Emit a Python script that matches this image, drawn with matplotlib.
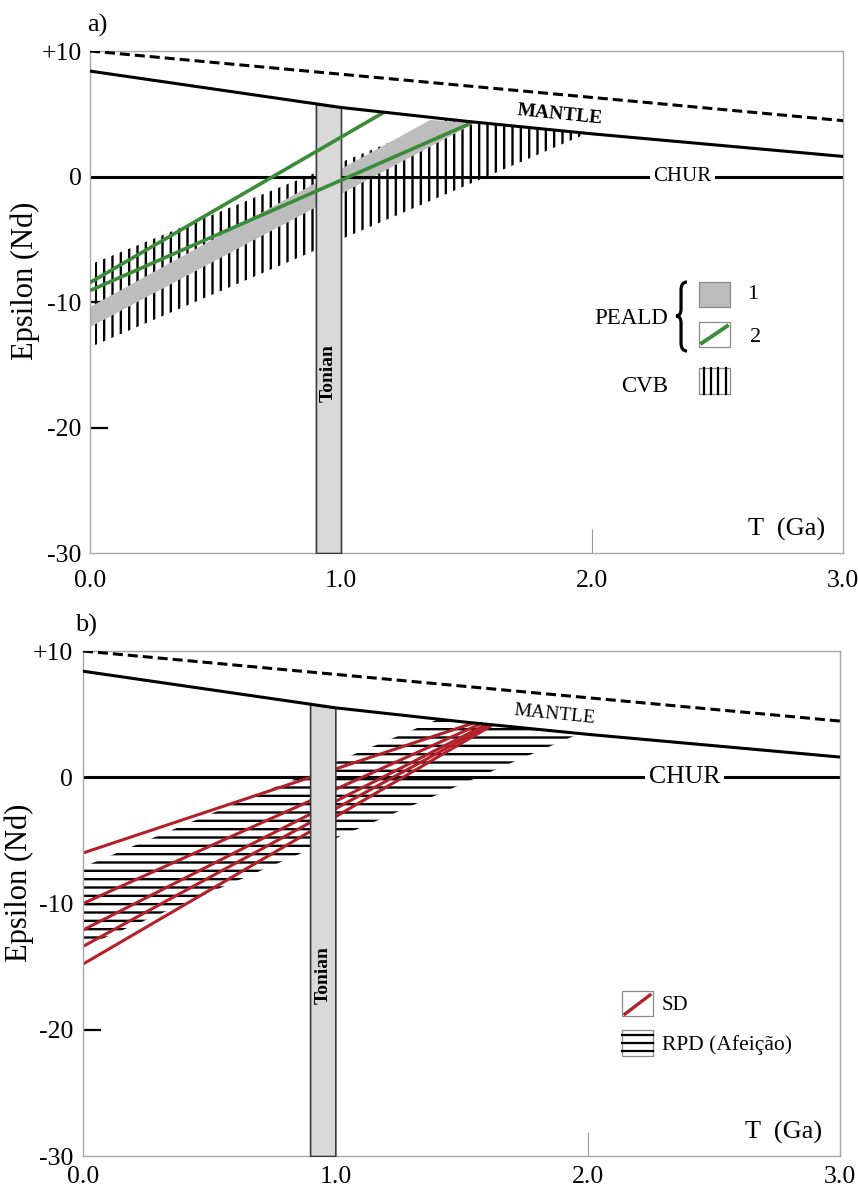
import numpy as np
import matplotlib
matplotlib.use('Agg')
import matplotlib.pyplot as plt
from matplotlib.path import Path
from matplotlib.patches import PathPatch, Rectangle
from matplotlib.lines import Line2D

plt.rcParams['font.family'] = ['Liberation Serif', 'DejaVu Serif']
plt.rcParams['hatch.linewidth'] = 1.7
plt.rcParams['lines.scale_dashes'] = False

# ---------------- data ----------------
T_ticks = [0.0, 1.0, 2.0, 3.0]
T_tick_labels = ['0.0', '1.0', '2.0', '3.0']
eps_ticks = [10, 0, -10, -20, -30]
eps_tick_labels = ['+10', '0', '-10', '-20', '-30']
minor_eps = [-10, -20]
minor_T = [2.0]

# depleted mantle (dashed) and mantle curve
dm_T = [0.0, 3.0]
dm_eps = [10.0, 4.45]
mantle_T = [0.0, 0.5, 1.0, 1.5, 2.0, 2.5, 3.0]
mantle_eps = [8.4, 6.95, 5.5, 4.4, 3.4, 2.5, 1.6]
chur_T = [0.0, 3.0]
chur_eps = [0.0, 0.0]

tonian_T = [0.9, 1.0]

# panel a
peald1_T = [0.0, 1.355, 1.534, 0.0]
peald1_eps = [-10.4, 4.5, 4.27, -12.0]
peald2_T = [[0.0, 1.167], [0.0, 1.52]]
peald2_eps = [[-8.45, 5.07], [-9.09, 4.27]]
cvb_T = [0.02, 1.42, 1.5, 1.98]
cvb_upper = [-6.86, 4.55, 4.4, 3.44]
cvb_lower = [-13.43, -1.39, -0.70, 3.43]

# panel b
sd_T = [[0.0, 1.548], [0.0, 1.583], [0.0, 1.60], [0.0, 1.61], [0.0, 1.62]]
sd_eps = [[-6.0, 4.3], [-10.0, 4.3], [-12.1, 4.2], [-13.4, 4.15], [-14.8, 4.1]]
rpd_T = [0.0, 1.409, 1.5, 1.964]
rpd_upper = [-7.11, 4.6, 4.4, 3.45]
rpd_lower = [-13.45, -1.34, -0.56, 3.43]

GREEN = '#3a8c38'
RED = '#b3202a'
BAND = '#bdbdbd'
BAR = '#d9d9d9'

fig = plt.figure(figsize=(8.58, 11.90), dpi=100)
axa = fig.add_axes([0.10490, 0.53529, 0.87762, 0.42185])
axb = fig.add_axes([0.09674, 0.02857, 0.88228, 0.42437])


def setup(ax, xpad, ypad, ylab_xy):
    ax.set_xlim(0, 3)
    ax.set_ylim(-30, 10)
    ax.set_xticks(T_ticks)
    ax.set_xticklabels(T_tick_labels, fontsize=18.5)
    ax.set_yticks(eps_ticks)
    ax.set_yticklabels(eps_tick_labels, fontsize=18.5)
    ax.set_yticks(minor_eps, minor=True)
    ax.set_xticks(minor_T, minor=True)
    ax.xaxis.remove_overlapping_locs = False
    ax.yaxis.remove_overlapping_locs = False
    ax.tick_params(which='major', length=0)
    ax.tick_params(axis='x', which='major', pad=xpad)
    ax.tick_params(axis='y', which='major', pad=ypad)
    ax.tick_params(axis='y', which='minor', direction='in', length=13,
                   width=1.6, color='black')
    ax.tick_params(axis='x', which='minor', direction='in', length=17,
                   width=0.8, color='#9a9a9a')
    for s in ax.spines.values():
        s.set_color('#a8a8a8')
        s.set_linewidth(1.0)
    ax.set_ylabel('Epsilon (Nd)', fontsize=22)
    ax.yaxis.set_label_coords(*ylab_xy)


def common(ax, chur_T_text, chur_fs, mantle_xy, mantle_bold, chur_z):
    ax.plot(dm_T, dm_eps, color='k', lw=2.2, dashes=(7.2, 3.6), zorder=5)
    ax.plot(mantle_T, mantle_eps, color='k', lw=2.2, zorder=5)
    ax.plot(chur_T, chur_eps, color='k', lw=2.2, zorder=chur_z,
            solid_capstyle='butt')
    top = np.interp(tonian_T, mantle_T, mantle_eps)
    ax.fill_between(tonian_T, -30, top, facecolor=BAR, edgecolor='#3a3a3a',
                    linewidth=1.2, zorder=3)
    ax.text(0.95, -15.7, 'Tonian', rotation=90, ha='center', va='center',
            fontsize=14, fontweight='bold', zorder=6)
    ax.text(chur_T_text, 0, 'CHUR', ha='center', va='center', fontsize=chur_fs,
            zorder=6, bbox=dict(facecolor='white', edgecolor='none', pad=2.5))
    ax.text(mantle_xy[0], mantle_xy[1], 'MANTLE', ha='center', va='center',
            rotation=-5.7, fontsize=14,
            fontweight='bold' if mantle_bold else 'normal', zorder=6)
    ax.text(0.925, 0.046, 'T  (Ga)', transform=ax.transAxes, ha='center',
            va='center', fontsize=19)


# ---------------- panel a ----------------
setup(axa, 12, 6, (-0.066, 0.542))
axa.fill_between(cvb_T, cvb_lower, cvb_upper, facecolor='none', edgecolor='k',
                 hatch='||', linewidth=0, zorder=2.0)
axa.fill(peald1_T, peald1_eps, color=BAND, lw=0, zorder=2.1)
for tt, ee in zip(peald2_T, peald2_eps):
    axa.plot(tt, ee, color=GREEN, lw=2.6, zorder=4, solid_capstyle='butt')
common(axa, 2.36, 15, (1.873, 4.91), True, 2.2)
fig.text(0.1014, 0.979, 'a)', fontsize=19, ha='left', va='center')

# legend a
tA = axa.transAxes
axa.add_patch(Rectangle((0.8088, 0.490), 0.0412, 0.0498, transform=tA,
                        facecolor=BAND, edgecolor='#8a8a8a', lw=0.9, zorder=6))
axa.add_patch(Rectangle((0.8088, 0.410), 0.0412, 0.0498, transform=tA,
                        facecolor='white', edgecolor='#8a8a8a', lw=0.9, zorder=6))
axa.add_line(Line2D([0.8127, 0.846], [0.4183, 0.452], transform=tA,
                    color=GREEN, lw=2.8, zorder=7))
axa.add_patch(Rectangle((0.8088, 0.3167), 0.0412, 0.0518, transform=tA,
                        facecolor='white', edgecolor='#8a8a8a', lw=0.9, zorder=6))
for xl in np.linspace(0.8088 + 0.006, 0.8500 - 0.006, 4):
    axa.add_line(Line2D([xl, xl], [0.3167, 0.3685], transform=tA,
                        color='k', lw=1.6, zorder=7))
axa.text(0.8805, 0.514, '1', transform=tA, fontsize=16, ha='center', va='center')
axa.text(0.8845, 0.430, '2', transform=tA, fontsize=16, ha='center', va='center')
axa.text(0.7676, 0.468, 'PEALD', transform=tA, fontsize=16.5, ha='right', va='center')
axa.text(0.7676, 0.3317, 'CVB', transform=tA, fontsize=16.5, ha='right', va='center')
brace_v = [(0.7928, 0.5398), (0.7849, 0.5398), (0.7849, 0.5239),
           (0.7849, 0.4861), (0.7849, 0.4721), (0.7782, 0.4721),
           (0.7849, 0.4721), (0.7849, 0.4582),
           (0.7849, 0.4183), (0.7849, 0.4024), (0.7928, 0.4024)]
brace_c = [Path.MOVETO, Path.CURVE3, Path.CURVE3, Path.LINETO, Path.CURVE3,
           Path.CURVE3, Path.CURVE3, Path.CURVE3, Path.LINETO, Path.CURVE3,
           Path.CURVE3]
axa.add_patch(PathPatch(Path(brace_v, brace_c), transform=tA, facecolor='none',
                        edgecolor='k', lw=2.3, zorder=7, clip_on=False))

# ---------------- panel b ----------------
setup(axb, 7, 7, (-0.065, 0.541))
axb.fill_between(rpd_T, rpd_lower, rpd_upper, facecolor='none', edgecolor='k',
                 hatch='--', linewidth=0, zorder=2.1)
for tt, ee in zip(sd_T, sd_eps):
    axb.plot(tt, ee, color=RED, lw=2.2, zorder=2.5, solid_capstyle='butt')
common(axb, 2.385, 18.5, (1.869, 4.93), False, 2.0)
fig.text(0.0874, 0.474, 'b)', fontsize=19, ha='left', va='center')

tB = axb.transAxes
axb.add_patch(Rectangle((0.712, 0.277), 0.041, 0.050, transform=tB,
                        facecolor='white', edgecolor='#8a8a8a', lw=0.9, zorder=6))
axb.add_line(Line2D([0.716, 0.749], [0.2812, 0.3188], transform=tB,
                    color=RED, lw=2.4, zorder=7))
axb.add_patch(Rectangle((0.712, 0.198), 0.041, 0.0515, transform=tB,
                        facecolor='white', edgecolor='#8a8a8a', lw=0.9, zorder=6))
for fy in (0.208, 0.2235, 0.239):
    axb.add_line(Line2D([0.712, 0.753], [fy, fy], transform=tB,
                        color='k', lw=1.6, zorder=7))
axb.text(0.765, 0.299, 'SD', transform=tB, fontsize=15, ha='left', va='center')
axb.text(0.765, 0.220, 'RPD (Afeição)', transform=tB, fontsize=15.5,
         ha='left', va='center')

fig.savefig('out.png', dpi=100)
